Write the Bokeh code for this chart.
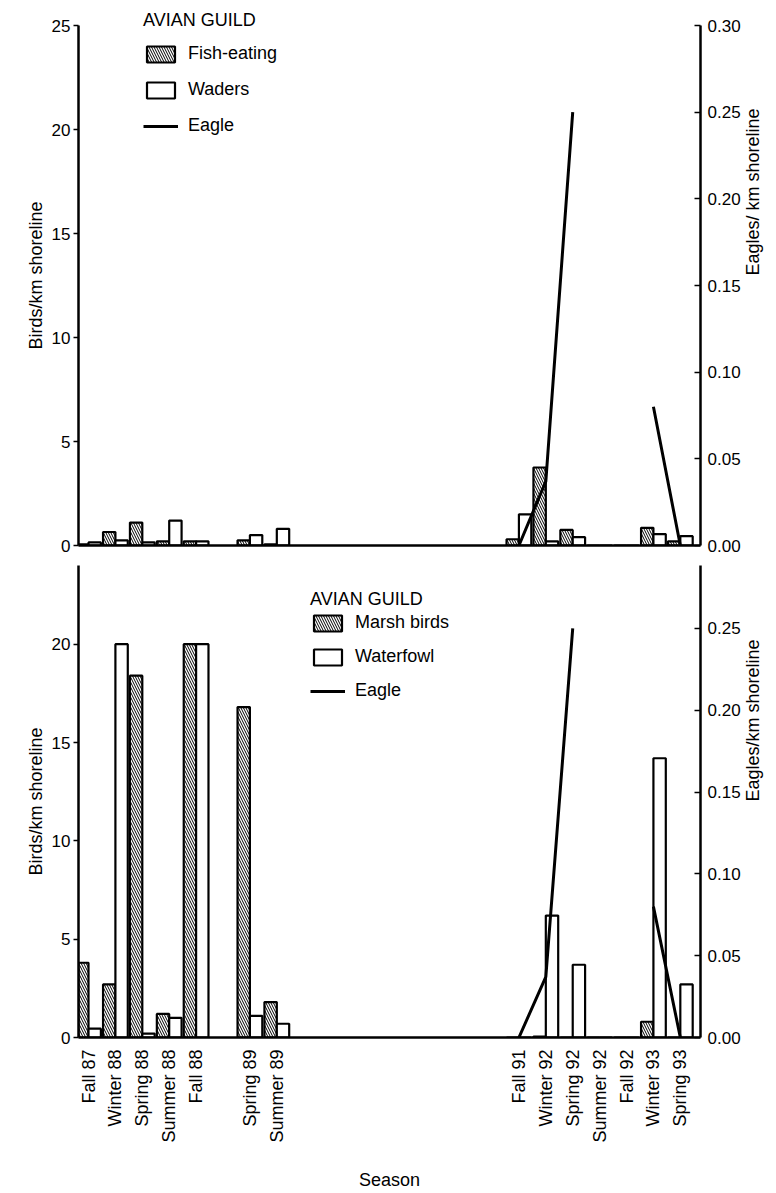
import math
import numpy as np
from bokeh.plotting import figure
from bokeh.models import (Range1d, LinearAxis, FixedTicker, NumeralTickFormatter,
                          Legend, LegendItem)
from bokeh.layouts import column
from bokeh.embed import file_html
from bokeh.resources import INLINE

# ---------------- data ----------------
all_seasons = ["Fall 87", "Winter 88", "Spring 88", "Summer 88", "Fall 88", "Winter 89",
               "Spring 89", "Summer 89", "Fall 89", "Winter 90", "Spring 90", "Summer 90",
               "Fall 90", "Winter 91", "Spring 91", "Summer 91", "Fall 91", "Winter 92",
               "Spring 92", "Summer 92", "Fall 92", "Winter 93", "Spring 93"]

seasons = ["Fall 87", "Winter 88", "Spring 88", "Summer 88", "Fall 88", "Spring 89",
           "Summer 89", "Fall 91", "Winter 92", "Spring 92", "Summer 92", "Fall 92",
           "Winter 93", "Spring 93"]

fish_eating = [0.05, 0.65, 1.1, 0.2, 0.2, 0.25, 0.05, 0.3, 3.75, 0.75, 0.0, 0.0, 0.85, 0.2]
waders      = [0.15, 0.25, 0.15, 1.2, 0.2, 0.5, 0.8, 1.5, 0.2, 0.4, 0.0, 0.0, 0.55, 0.45]

marsh_birds = [3.8, 2.7, 18.4, 1.2, 20.0, 16.8, 1.8, 0.0, 0.05, 0.0, 0.0, 0.0, 0.8, 0.0]
waterfowl   = [0.45, 20.0, 0.2, 1.0, 20.0, 1.1, 0.7, 0.0, 6.2, 3.7, 0.0, 0.0, 14.2, 2.7]

eagle_seasons = ["Fall 91", "Winter 92", "Spring 92", "Summer 92", "Fall 92", "Winter 93", "Spring 93"]
eagle = [0.0, 0.037, 0.25, float("nan"), float("nan"), 0.08, 0.0]

left_ticks_top = [0, 5, 10, 15, 20, 25]
left_ticks_bottom = [0, 5, 10, 15, 20]
right_ticks_top = [0.0, 0.05, 0.10, 0.15, 0.20, 0.25, 0.30]
right_ticks_bottom = [0.0, 0.05, 0.10, 0.15, 0.20, 0.25]

# ---------------- layout helpers ----------------
FONT = "Liberation Sans"
W = 776
BW = 0.46
xs = np.array([all_seasons.index(s) for s in seasons], dtype=float)
ex = np.array([all_seasons.index(s) for s in eagle_seasons], dtype=float)
X_RANGE = (-0.372, 22.75)


def style_fig(p):
    p.grid.visible = False
    p.outline_line_color = None
    p.background_fill_color = "white"
    p.border_fill_color = "white"


def style_axis(ax, side):
    ax.axis_line_width = 2.5
    ax.axis_line_color = "black"
    ax.major_tick_line_width = 1.5
    ax.major_tick_line_color = "black"
    ax.minor_tick_line_color = None
    ax.major_label_text_font = FONT
    ax.major_label_text_font_size = "17px"
    ax.major_label_text_color = "black"
    ax.axis_label_text_font = FONT
    ax.axis_label_text_font_size = "18px"
    ax.axis_label_text_font_style = "normal"
    ax.axis_label_text_color = "black"
    if side == "left":
        ax.major_tick_out = 5
        ax.major_tick_in = 0
        ax.major_label_standoff = 3
        ax.axis_label_standoff = 3
    elif side == "right":
        ax.major_tick_out = 0
        ax.major_tick_in = 6
        ax.major_label_standoff = 7
        ax.axis_label_standoff = 9
        try:
            ax.axis_label_orientation = math.pi / 2
        except Exception:
            pass


def panel(height, border_top, border_bottom, ymax, ytop, rtop, lticks, rticks,
          hatched_vals, open_vals, hatched_name, open_name, right_label,
          legend_loc, legend_spacing, title_standoff, show_x):
    # ytop: highest labelled value of the left axis; ymax: top of the frame
    rmax = rtop * ymax / ytop
    p = figure(width=W, height=height, x_range=Range1d(*X_RANGE), y_range=Range1d(0, ymax),
               output_backend="svg", toolbar_location=None,
               min_border_left=78, min_border_right=W - 78 - 622,
               min_border_top=border_top, min_border_bottom=border_bottom)
    style_fig(p)
    p.extra_y_ranges = {"eagle": Range1d(0, rmax)}

    r_h = p.vbar(x=xs - BW / 2, top=hatched_vals, bottom=0, width=BW,
                 fill_color="white", line_color="black", line_width=2.2,
                 hatch_pattern="\\", hatch_color="black", hatch_scale=5, hatch_weight=1)
    r_o = p.vbar(x=xs + BW / 2, top=open_vals, bottom=0, width=BW,
                 fill_color="white", line_color="black", line_width=2.2)
    r_e = p.line(x=ex, y=eagle, y_range_name="eagle", line_color="black", line_width=3)

    # left axis
    yax = p.yaxis[0]
    yax.ticker = FixedTicker(ticks=lticks)
    yax.axis_label = "Birds/km shoreline"
    yax.bounds = (0, ytop)
    style_axis(yax, "left")

    # right axis
    rax = LinearAxis(y_range_name="eagle", axis_label=right_label,
                     ticker=FixedTicker(ticks=rticks),
                     formatter=NumeralTickFormatter(format="0.00"),
                     bounds=(0, rmax * ytop / ymax))
    style_axis(rax, "right")
    p.add_layout(rax, "right")

    # x axis
    xax = p.xaxis[0]
    style_axis(xax, "bottom")
    xax.major_tick_line_color = None
    if show_x:
        xax.ticker = FixedTicker(ticks=list(xs))
        xax.major_label_overrides = {float(x): s for x, s in zip(xs, seasons)}
        xax.major_label_orientation = math.pi / 2
        xax.major_label_text_font_size = "18px"
        xax.major_label_standoff = 6
        xax.axis_label = "Season"
        xax.axis_label_standoff = 24
    else:
        xax.ticker = FixedTicker(ticks=[])
        xax.major_label_text_font_size = "0px"

    legend = Legend(items=[LegendItem(label=hatched_name, renderers=[r_h]),
                           LegendItem(label=open_name, renderers=[r_o]),
                           LegendItem(label="Eagle", renderers=[r_e])],
                    title="AVIAN GUILD", location=legend_loc,
                    glyph_width=35, glyph_height=20, label_height=20,
                    label_standoff=10, spacing=legend_spacing, padding=0, margin=0,
                    title_standoff=title_standoff,
                    border_line_color=None, background_fill_alpha=0)
    legend.title_text_font = FONT
    legend.title_text_font_size = "18px"
    legend.title_text_font_style = "normal"
    legend.title_text_color = "black"
    legend.label_text_font = FONT
    legend.label_text_font_size = "18px"
    legend.label_text_color = "black"
    p.add_layout(legend)
    return p


# top panel: frame extends above the 25 tick so the legend title has room
p1 = panel(555, 5, 10, 25 + 20 / 20.8, 25, 0.30, left_ticks_top, right_ticks_top,
           fish_eating, waders, "Fish-eating", "Waders", "Eagles/ km shoreline",
           (65, 409), 15, 12, False)
p2 = panel(637, 10, 154, 24, 24, 0.2885, left_ticks_bottom, right_ticks_bottom,
           marsh_birds, waterfowl, "Marsh birds", "Waterfowl", "Eagles/km shoreline",
           (232, 336), 13, 2, True)

layout = column(p1, p2, spacing=0)
open("out.html", "w").write(file_html(layout, INLINE))
